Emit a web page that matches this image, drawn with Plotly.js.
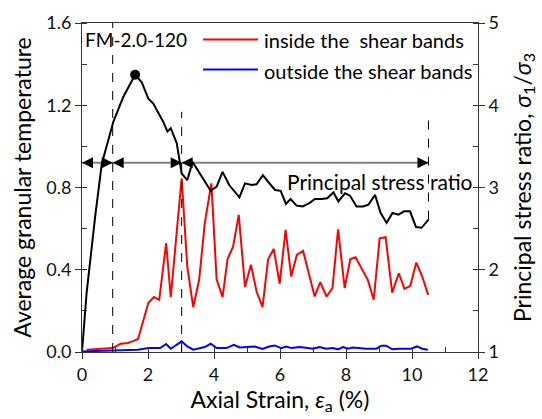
<!DOCTYPE html>
<html><head><meta charset="utf-8">
<script src="https://cdn.plot.ly/plotly-3.0.1.min.js"></script>
<style>html,body{margin:0;padding:0;background:#fff}</style>
</head><body><div id="chart" style="width:542px;height:419px"></div>
<script>
// Principal stress ratio (right axis)
const ratioStrain = [0, 0.14, 0.40, 0.60, 0.95, 1.25, 1.61, 1.81, 2.01, 2.16, 2.46, 2.59, 2.69, 2.87, 3.02, 3.19, 3.35, 3.58, 3.90, 4.08, 4.26, 4.46, 4.77, 4.94, 5.14, 5.29, 5.48, 5.64, 5.85, 6.02, 6.18, 6.32, 6.50, 6.69, 6.89, 7.06, 7.26, 7.43, 7.62, 7.77, 7.97, 8.12, 8.32, 8.52, 8.68, 8.88, 9.05, 9.23, 9.41, 9.59, 9.76, 9.94, 10.12, 10.29, 10.50];
const ratioValues = [1.00, 1.72, 2.65, 3.29, 3.80, 4.10, 4.37, 4.28, 4.08, 4.02, 3.80, 3.68, 3.72, 3.54, 3.17, 3.09, 3.31, 3.17, 2.96, 3.01, 3.19, 3.03, 2.88, 3.05, 3.03, 3.04, 3.15, 3.07, 2.97, 2.96, 2.80, 2.86, 2.78, 2.77, 2.81, 2.86, 2.86, 2.87, 2.94, 2.83, 2.93, 2.90, 2.77, 2.77, 2.79, 2.91, 2.69, 2.57, 2.69, 2.67, 2.71, 2.71, 2.52, 2.51, 2.61];

// Granular temperature inside the shear bands (left axis)
const insideStrain = [0.14, 0.70, 0.93, 1.17, 1.40, 1.53, 1.70, 2.01, 2.18, 2.34, 2.55, 2.69, 3.02, 3.19, 3.37, 3.55, 3.72, 3.92, 4.08, 4.26, 4.41, 4.58, 4.75, 4.94, 5.12, 5.29, 5.47, 5.64, 5.81, 5.99, 6.17, 6.34, 6.51, 6.70, 7.05, 7.22, 7.41, 7.59, 7.76, 7.96, 8.13, 8.29, 8.66, 8.84, 9.02, 9.20, 9.40, 9.60, 9.77, 9.95, 10.13, 10.31, 10.49];
const insideTemp = [0.011, 0.015, 0.019, 0.040, 0.044, 0.052, 0.063, 0.238, 0.267, 0.254, 0.529, 0.267, 0.845, 0.416, 0.218, 0.351, 0.626, 0.820, 0.354, 0.267, 0.451, 0.513, 0.667, 0.316, 0.424, 0.294, 0.218, 0.451, 0.501, 0.332, 0.594, 0.367, 0.472, 0.492, 0.270, 0.340, 0.270, 0.311, 0.597, 0.311, 0.451, 0.461, 0.351, 0.254, 0.553, 0.558, 0.289, 0.383, 0.307, 0.322, 0.435, 0.367, 0.278];

// Granular temperature outside the shear bands (left axis)
const outsideStrain = [0, 0.95, 1.70, 2.01, 2.37, 2.55, 2.69, 3.02, 3.19, 3.37, 3.55, 3.72, 3.90, 4.08, 4.38, 4.60, 4.78, 5.23, 5.47, 5.67, 5.84, 6.04, 6.19, 6.35, 6.60, 7.00, 7.20, 7.40, 7.60, 7.76, 7.91, 8.06, 8.21, 8.61, 8.92, 9.07, 9.22, 9.40, 9.62, 9.97, 10.15, 10.31, 10.48];
const outsideTemp = [0.003, 0.006, 0.011, 0.019, 0.019, 0.039, 0.016, 0.052, 0.027, 0.011, 0.019, 0.024, 0.040, 0.019, 0.019, 0.035, 0.022, 0.027, 0.015, 0.027, 0.032, 0.019, 0.027, 0.019, 0.024, 0.016, 0.024, 0.016, 0.019, 0.013, 0.024, 0.016, 0.022, 0.016, 0.016, 0.031, 0.031, 0.013, 0.016, 0.016, 0.027, 0.016, 0.011];

// Stage boundaries (axial strain, %) and reference stress ratio level
const stageBounds = [0, 0.93, 3.02, 10.5];
const dashTopRatio = 3.92;
const refRatio = 3.3;

const seriesNames = ['inside the  shear bands', 'outside the shear bands'];
const testLabel = 'FM-2.0-120';
const ratioLabel = 'Principal stress ratio';

const FONT = 'Lato, "Open Sans", sans-serif';
const peakIdx = ratioValues.indexOf(Math.max(...ratioValues));

const traces = [
  {x: insideStrain, y: insideTemp, type: 'scatter', mode: 'lines', name: seriesNames[0],
   line: {color: '#ff0000', width: 2}, showlegend: false},
  {x: outsideStrain, y: outsideTemp, type: 'scatter', mode: 'lines', name: seriesNames[1],
   line: {color: '#0000ff', width: 2}, showlegend: false},
  {x: ratioStrain, y: ratioValues, type: 'scatter', mode: 'lines', name: ratioLabel, yaxis: 'y2',
   line: {color: '#000000', width: 2}, showlegend: false},
  {x: [ratioStrain[peakIdx]], y: [ratioValues[peakIdx]], type: 'scatter', mode: 'markers', yaxis: 'y2',
   marker: {color: '#000', size: 10}, showlegend: false, hoverinfo: 'skip'}
];

const shapes = [
  {type: 'line', xref: 'x', yref: 'y2', x0: stageBounds[0], x1: stageBounds[3], y0: refRatio, y1: refRatio,
   line: {color: '#808080', width: 2}, layer: 'below'},
  {type: 'line', xref: 'x', yref: 'paper', x0: stageBounds[1], x1: stageBounds[1], y0: 0, y1: 1,
   line: {color: '#000', width: 1, dash: 'dash'}},
  {type: 'line', xref: 'x', yref: 'y2', x0: stageBounds[2], x1: stageBounds[2], y0: 1, y1: dashTopRatio,
   line: {color: '#000', width: 1, dash: 'dash'}},
  {type: 'line', xref: 'x', yref: 'y2', x0: stageBounds[3], x1: stageBounds[3], y0: ratioValues[ratioValues.length-1], y1: dashTopRatio,
   line: {color: '#000', width: 1, dash: 'dash'}},
  // legend samples
  {type: 'line', xref: 'paper', yref: 'paper', x0: 0.3056, x1: 0.4444, y0: 0.950, y1: 0.950, line: {color: '#ff0000', width: 2}},
  {type: 'line', xref: 'paper', yref: 'paper', x0: 0.3056, x1: 0.4444, y0: 0.859, y1: 0.859, line: {color: '#0000ff', width: 2}}
];

const annotations = [
  {xref: 'paper', yref: 'paper', x: 0.003, y: 0.95, xanchor: 'left', yanchor: 'middle', text: testLabel, showarrow: false, font: {family: FONT, size: 19, color: '#000'}},
  {xref: 'paper', yref: 'paper', x: 0.455, y: 0.948, xanchor: 'left', yanchor: 'middle', text: seriesNames[0], showarrow: false, font: {family: FONT, size: 20, color: '#000'}},
  {xref: 'paper', yref: 'paper', x: 0.455, y: 0.853, xanchor: 'left', yanchor: 'middle', text: seriesNames[1], showarrow: false, font: {family: FONT, size: 20, color: '#000'}},
  {xref: 'paper', yref: 'paper', x: 0.513, y: 0.517, xanchor: 'left', yanchor: 'middle', text: ratioLabel, showarrow: false, font: {family: FONT, size: 21, color: '#000'}}
];
for (let i = 0; i < stageBounds.length - 1; i++) {
  [[stageBounds[i], 12], [stageBounds[i+1], -12]].forEach(([xv, off]) => {
    annotations.push({xref: 'x', yref: 'y2', x: xv, y: refRatio, ax: off, ay: 0, text: '',
      showarrow: true, arrowhead: 2, arrowsize: 2.2, arrowwidth: 1, arrowcolor: '#000', standoff: 0});
  });
}

const tickFont = {family: FONT, size: 18, color: '#111'};
const titleFont = {family: FONT, size: 23, color: '#000'};

const layout = {
  width: 542, height: 419,
  margin: {l: 82, r: 64, t: 23, b: 67},
  paper_bgcolor: '#fff', plot_bgcolor: '#fff',
  font: {family: FONT, color: '#000'},
  showlegend: false,
  xaxis: {range: [0, 12], dtick: 2, tick0: 0, ticks: 'outside', ticklen: 6, tickcolor: '#333',
    minor: {dtick: 1, ticks: 'inside', ticklen: 5, tickcolor: '#333'},
    showline: true, linecolor: '#333', linewidth: 1, mirror: true, showgrid: false, zeroline: false,
    tickfont: tickFont,
    title: {text: 'Axial Strain, <i>ε</i><sub>a</sub> (%)', font: titleFont, standoff: 6}},
  yaxis: {range: [0, 1.6], dtick: 0.4, tick0: 0, tickformat: '.1f', ticks: 'outside', ticklen: 6, tickcolor: '#333',
    minor: {dtick: 0.2, ticks: 'inside', ticklen: 5, tickcolor: '#333'},
    showline: true, linecolor: '#333', linewidth: 1, showgrid: false, zeroline: false,
    tickfont: tickFont,
    title: {text: 'Average granular temperature', font: titleFont, standoff: 8}},
  yaxis2: {range: [1, 5], dtick: 1, tick0: 1, overlaying: 'y', side: 'right', ticks: 'outside', ticklen: 6, tickcolor: '#333',
    minor: {dtick: 0.5, ticks: 'inside', ticklen: 5, tickcolor: '#333'},
    showline: true, linecolor: '#333', linewidth: 1, showgrid: false, zeroline: false,
    tickfont: tickFont,
    title: {text: 'Principal stress ratio, <i>σ</i><sub>1</sub>/<i>σ</i><sub>3</sub>', font: titleFont, standoff: 16}},
  shapes: shapes,
  annotations: annotations
};

Plotly.newPlot('chart', traces, layout, {displayModeBar: false, staticPlot: true});
</script>
</body></html>
